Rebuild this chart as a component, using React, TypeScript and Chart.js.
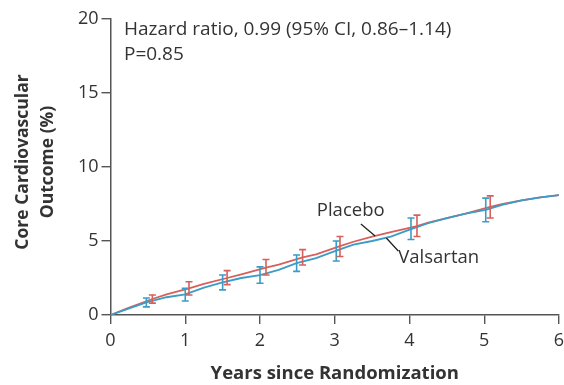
import React, { useEffect, useRef } from "react";
import { Chart, registerables } from "chart.js";

Chart.register(...registerables);

// Kaplan-Meier style cumulative incidence (%)
const placeboYears = [0, 0.25, 0.56, 0.75, 1.05, 1.25, 1.56, 1.75, 2.08, 2.25, 2.57, 2.75, 3.07, 3.25, 3.5, 3.75, 4.1, 4.25, 4.5, 4.75, 5.08, 5.25, 5.5, 5.75, 6.0];
const placeboValues = [0, 0.5, 1.08, 1.4, 1.8, 2.1, 2.5, 2.75, 3.2, 3.4, 3.9, 4.1, 4.65, 4.95, 5.3, 5.6, 6.0, 6.25, 6.55, 6.85, 7.3, 7.5, 7.75, 7.95, 8.1];
const valsartanYears = [0, 0.25, 0.48, 0.75, 1.0, 1.25, 1.5, 1.75, 2.0, 2.25, 2.49, 2.75, 3.02, 3.25, 3.5, 3.75, 4.02, 4.25, 4.5, 4.75, 5.02, 5.25, 5.5, 5.75, 6.0];
const valsartanValues = [0, 0.45, 0.85, 1.2, 1.4, 1.85, 2.2, 2.5, 2.7, 3.05, 3.5, 3.85, 4.35, 4.75, 5.0, 5.3, 5.8, 6.2, 6.55, 6.85, 7.1, 7.45, 7.75, 7.95, 8.1];

// 95% CI error bars
const valsartanBarYears = [0.48, 1.0, 1.5, 2.0, 2.49, 3.02, 4.02, 5.02];
const valsartanBarLow = [0.55, 0.95, 1.7, 2.15, 2.95, 3.65, 5.1, 6.3];
const valsartanBarHigh = [1.15, 1.8, 2.7, 3.25, 4.05, 5.0, 6.55, 7.9];
const placeboBarYears = [0.56, 1.05, 1.56, 2.08, 2.57, 3.07, 4.1, 5.08];
const placeboBarLow = [0.8, 1.35, 2.05, 2.7, 3.38, 3.95, 5.3, 6.55];
const placeboBarHigh = [1.35, 2.25, 3.0, 3.75, 4.42, 5.3, 6.75, 8.05];

const xTicks = [0, 1, 2, 3, 4, 5, 6];
const yTicks = [0, 5, 10, 15, 20];

const hazardText = "Hazard ratio, 0.99 (95% CI, 0.86\u20131.14)";
const pText = "P=0.85";
const xTitle = "Years since Randomization";
const yTitleLines = ["Core Cardiovascular", "Outcome (%)"];

const RED = "#d6605b";
const BLUE = "#3b9cc5";
const TEXT = "#333333";
const AXIS = "#555555";
const FONT = "'Open Sans', sans-serif";

const errorBarPlugin = {
  id: "errorBars",
  afterDatasetsDraw(chart: any) {
    const { ctx, scales } = chart;
    const xs = scales.x;
    const ys = scales.y;
    const draw = (years: number[], lo: number[], hi: number[], color: string) => {
      ctx.save();
      ctx.strokeStyle = color;
      ctx.lineWidth = 1.6;
      years.forEach((t, i) => {
        const px = xs.getPixelForValue(t);
        const p1 = ys.getPixelForValue(lo[i]);
        const p2 = ys.getPixelForValue(hi[i]);
        ctx.beginPath();
        ctx.moveTo(px, p1);
        ctx.lineTo(px, p2);
        ctx.moveTo(px - 3.5, p1);
        ctx.lineTo(px + 3.5, p1);
        ctx.moveTo(px - 3.5, p2);
        ctx.lineTo(px + 3.5, p2);
        ctx.stroke();
      });
      ctx.restore();
    };
    draw(valsartanBarYears, valsartanBarLow, valsartanBarHigh, BLUE);
    draw(placeboBarYears, placeboBarLow, placeboBarHigh, RED);
  },
};

const annotationPlugin = {
  id: "annotations",
  afterDraw(chart: any) {
    const { ctx, scales, chartArea } = chart;
    const xs = scales.x;
    const ys = scales.y;
    const X = (t: number) => xs.getPixelForValue(t);
    const Y = (v: number) => ys.getPixelForValue(v);
    ctx.save();
    ctx.fillStyle = TEXT;
    ctx.textBaseline = "middle";
    ctx.textAlign = "left";
    ctx.font = `19px ${FONT}`;
    ctx.fillText(hazardText, X(0.18), Y(19.26));
    ctx.fillText(pText, X(0.18), Y(17.57));
    ctx.font = `18.5px ${FONT}`;
    ctx.fillText("Placebo", X(2.76), Y(7.03));
    ctx.fillText("Valsartan", X(3.85), Y(3.85));
    ctx.strokeStyle = "#222";
    ctx.lineWidth = 1.3;
    ctx.beginPath();
    ctx.moveTo(X(3.35), Y(6.15));
    ctx.lineTo(X(3.54), Y(5.34));
    ctx.moveTo(X(3.69), Y(5.2));
    ctx.lineTo(X(3.85), Y(4.32));
    ctx.stroke();
    // axis titles
    ctx.font = `bold 18.5px ${FONT}`;
    ctx.textAlign = "center";
    ctx.fillText(xTitle, (chartArea.left + chartArea.right) / 2, 374);
    ctx.font = `bold 17.5px ${FONT}`;
    const cy = (chartArea.top + chartArea.bottom) / 2 - 5;
    ctx.translate(0, cy);
    ctx.rotate(-Math.PI / 2);
    ctx.fillText(yTitleLines[0], 0, 23);
    ctx.fillText(yTitleLines[1], 0, 48);
    ctx.restore();
  },
};

export default function App() {
  const ref = useRef<HTMLCanvasElement | null>(null);
  useEffect(() => {
    document.body.style.margin = "0";
    if (!ref.current) return;
    const chart = new Chart(ref.current, {
      type: "line",
      data: {
        datasets: [
          {
            label: "Valsartan",
            data: valsartanYears.map((t, i) => ({ x: t, y: valsartanValues[i] })),
            borderColor: BLUE,
            borderWidth: 1.8,
            pointRadius: 0,
            tension: 0,
          },
          {
            label: "Placebo",
            data: placeboYears.map((t, i) => ({ x: t, y: placeboValues[i] })),
            borderColor: RED,
            borderWidth: 1.8,
            pointRadius: 0,
            tension: 0,
          },
        ],
      },
      options: {
        animation: false,
        responsive: false,
        maintainAspectRatio: false,
        layout: { padding: { top: 19, right: 5, left: 0, bottom: 0 } },
        plugins: { legend: { display: false }, tooltip: { enabled: false }, title: { display: false } },
        scales: {
          x: {
            type: "linear",
            min: 0,
            max: 6,
            afterBuildTicks: (s: any) => {
              s.ticks = xTicks.map((v) => ({ value: v }));
            },
            afterFit: (s: any) => {
              s.height = 70;
              s.paddingLeft = 0;
              s.paddingRight = 0;
            },
            ticks: { color: TEXT, font: { family: FONT, size: 18 }, padding: 6, maxRotation: 0 },
            grid: { drawOnChartArea: false, drawTicks: true, tickLength: 9, color: AXIS, lineWidth: 1.4 },
            border: { color: AXIS, width: 1.5 },
          },
          y: {
            type: "linear",
            min: 0,
            max: 20,
            afterBuildTicks: (s: any) => {
              s.ticks = yTicks.map((v) => ({ value: v }));
            },
            afterFit: (s: any) => {
              s.width = 110.5;
              s.paddingTop = 0;
              s.paddingBottom = 0;
            },
            ticks: { color: TEXT, font: { family: FONT, size: 18 }, padding: 3 },
            grid: { drawOnChartArea: false, drawTicks: true, tickLength: 9, color: AXIS, lineWidth: 1.4 },
            border: { color: AXIS, width: 1.5 },
          },
        },
      },
      plugins: [errorBarPlugin, annotationPlugin],
    });
    return () => chart.destroy();
  }, []);
  return (
    <div style={{ position: "absolute", left: 0, top: 0, width: 564, height: 385, background: "#fff" }}>
      <canvas ref={ref} width={564} height={385} style={{ width: 564, height: 385 }} />
    </div>
  );
}
